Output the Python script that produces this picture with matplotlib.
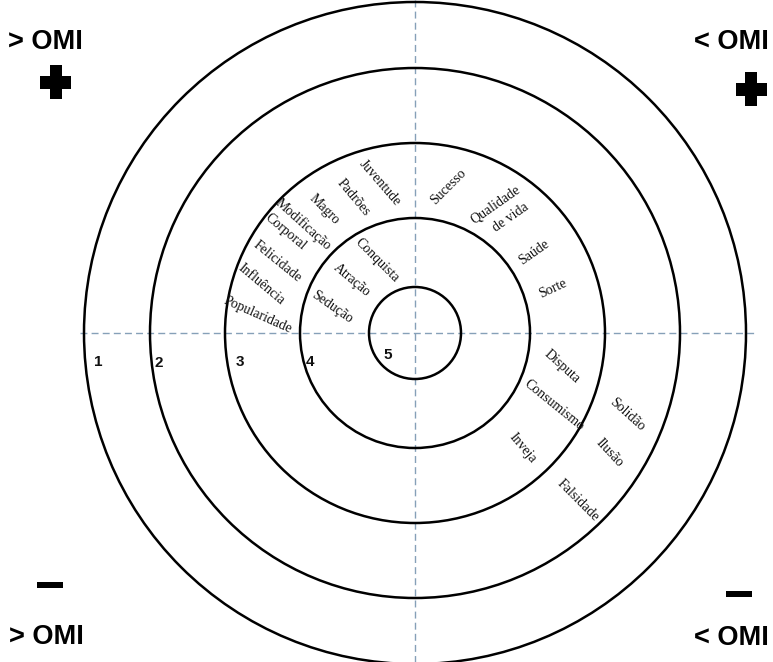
import matplotlib
matplotlib.use("Agg")
import matplotlib.pyplot as plt
from matplotlib.patches import Circle, Rectangle

# ---- data ----
levels = ["1", "2", "3", "4", "5"]
ring_radius = [331, 265, 190, 115, 46]          # outer -> inner ring radius (px units)
level_label_x = [-317, -256, -175, -105, -27]
level_label_y = [-29, -30, -29, -29, -22]

words = ["Juventude", "Padrões", "Magro", "Modificação", "Corporal", "Felicidade",
         "Influência", "Popularidade", "Conquista", "Atração", "Sedução",
         "Sucesso", "Qualidade", "de vida", "Saúde", "Sorte",
         "Disputa", "Consumismo", "Inveja", "Solidão", "Ilusão", "Falsidade"]
word_x = [-35, -62, -91, -112, -130, -138, -154, -157, -38, -63, -83,
          33, 80, 96, 119, 138, 147, 139, 108, 212, 195, 163]
word_y = [150, 135, 124, 109, 101, 71, 49, 18, 73, 53, 26,
          146, 128, 116, 81, 44, -34, -72, -115, -82, -120, -167]
word_rot = [-49, -50, -45, -42, -40, -39, -40, -24, -45, -40, -35,
            45, 35, 35, 35, 25, -42, -39, -50, -42, -47, -45]

corner_labels = ["> OMI", "< OMI", "> OMI", "< OMI"]

# ---- figure ----
W, H = 773, 662
cx, cy = 415, 333
fig = plt.figure(figsize=(W / 100, H / 100), dpi=100)
ax = fig.add_axes([0, 0, 1, 1])
ax.set_xlim(-cx, W - cx)
ax.set_ylim(-(H - cy), cy)
ax.set_aspect("equal")
ax.axis("off")

dash_col = "#86a0b8"
ax.plot([0, 0], [cy, -(H - cy)], color=dash_col, lw=1.0, ls=(0, (5, 3)), zorder=1)
ax.plot([-335, 340], [0, 0], color=dash_col, lw=1.0, ls=(0, (5, 3)), zorder=1)

for r in ring_radius:
    ax.add_patch(Circle((0, 0), r, fill=False, ec="black", lw=1.8, zorder=2))

for lab, x, y in zip(levels, level_label_x, level_label_y):
    ax.text(x, y, lab, family="Liberation Sans", fontweight="bold", fontsize=11,
            ha="center", va="center", color="#111111", zorder=3)

for w, x, y, r in zip(words, word_x, word_y, word_rot):
    ax.text(x, y, w, family="Liberation Serif", fontsize=10, rotation=r,
            rotation_mode="anchor", ha="center", va="center", color="#111111", zorder=3)

# corner labels
corner_pos = [(45 - cx, cy - 42), (731 - cx, cy - 42), (46 - cx, cy - 637), (731 - cx, cy - 638)]
for lab, (x, y) in zip(corner_labels, corner_pos):
    ax.text(x, y, lab, family="Liberation Sans", fontweight="bold", fontsize=19.5,
            ha="center", va="center", color="black")

# plus signs
def plus_px(xc, yc):
    x0 = xc - cx
    ax.add_patch(Rectangle((x0 - 6, cy - (yc + 17)), 12, 34, color="black", lw=0))
    ax.add_patch(Rectangle((x0 - 15.5, cy - (yc + 6.5)), 31, 13, color="black", lw=0))

plus_px(55.5, 82)
plus_px(751, 89)

# minus signs
ax.add_patch(Rectangle((37 - cx, cy - 588), 26, 6, color="black", lw=0))
ax.add_patch(Rectangle((726 - cx, cy - 597), 26, 6, color="black", lw=0))

fig.savefig("out.png", dpi=100)
